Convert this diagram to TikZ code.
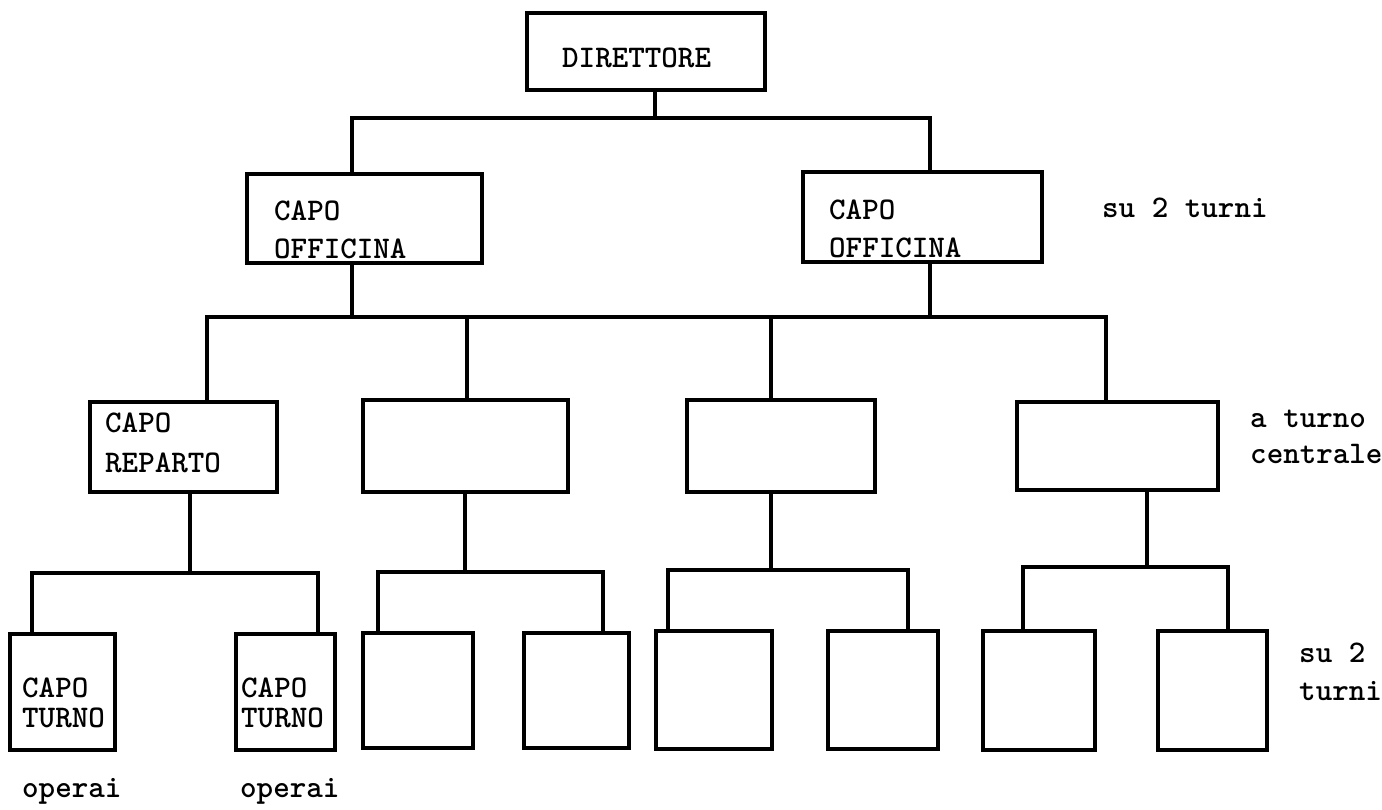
\documentclass[tikz,border=0pt]{standalone}
\usepackage{fontspec}
\begin{document}
\begin{tikzpicture}[x=1pt,y=-1pt,
  boxst/.style={draw, line width=3.2pt, inner sep=0pt, outer sep=0pt},
  conn/.style={line width=3.2pt, line join=miter},
  lbl/.style={anchor=base west, inner sep=0pt, font=\fontsize{31.5}{36}\selectfont\ttfamily\bfseries}]
\useasboundingbox (0,0) rectangle (1382,809);
% boxes
\node[boxst, minimum width=238pt, minimum height=77pt] (dir) at (646,51.5) {};
\node[boxst, minimum width=235pt, minimum height=89pt] (col) at (364.5,218.5) {};
\node[boxst, minimum width=239pt, minimum height=90pt] (cor) at (922.5,217) {};
\node[boxst, minimum width=187pt, minimum height=90pt] (b1) at (183.5,447) {};
\node[boxst, minimum width=205pt, minimum height=92pt] (b2) at (465.5,446) {};
\node[boxst, minimum width=188pt, minimum height=92pt] (b3) at (781,446) {};
\node[boxst, minimum width=201pt, minimum height=88pt] (b4) at (1117.5,446) {};
\node[boxst, minimum width=105pt, minimum height=116pt] (c1) at (62.5,692) {};
\node[boxst, minimum width=99pt, minimum height=116pt] (c2) at (285.5,692) {};
\node[boxst, minimum width=110pt, minimum height=115pt] (c3) at (418,690.5) {};
\node[boxst, minimum width=105pt, minimum height=115pt] (c4) at (576.5,690.5) {};
\node[boxst, minimum width=116pt, minimum height=118pt] (c5) at (714,690) {};
\node[boxst, minimum width=110pt, minimum height=118pt] (c6) at (883,690) {};
\node[boxst, minimum width=112pt, minimum height=119pt] (c7) at (1039,690.5) {};
\node[boxst, minimum width=109pt, minimum height=119pt] (c8) at (1212.5,690.5) {};
% junctions
\coordinate (t0) at (655,118);
\coordinate (tL) at (352,118);
\coordinate (tR) at (930,118);
\coordinate (m1) at (207,317);
\coordinate (m2) at (467,317);
\coordinate (m3) at (771,317);
\coordinate (m4) at (1106,317);
\coordinate (g1) at (190,573);  \coordinate (g1a) at (32,573);   \coordinate (g1b) at (318,573);
\coordinate (g2) at (465,572);  \coordinate (g2a) at (378,572);  \coordinate (g2b) at (603,572);
\coordinate (g3) at (771,570);  \coordinate (g3a) at (668,570);  \coordinate (g3b) at (908,570);
\coordinate (g4) at (1147,567); \coordinate (g4a) at (1023,567); \coordinate (g4b) at (1228,567);
% connectors
\draw[conn] (dir.south -| t0) -- (t0);
\draw[conn] (col.north -| tL) -- (tL) -- (tR) -- (cor.north -| tR);
\draw[conn] (col.south -| tL) -- (tL |- m1);
\draw[conn] (cor.south -| tR) -- (tR |- m1);
\draw[conn] (b1.north -| m1) -- (m1) -- (m4) -- (b4.north -| m4);
\draw[conn] (b2.north -| m2) -- (m2);
\draw[conn] (b3.north -| m3) -- (m3);
\draw[conn] (b1.south -| g1) -- (g1);
\draw[conn] (c1.north -| g1a) -- (g1a) -- (g1b) -- (c2.north -| g1b);
\draw[conn] (b2.south -| g2) -- (g2);
\draw[conn] (c3.north -| g2a) -- (g2a) -- (g2b) -- (c4.north -| g2b);
\draw[conn] (b3.south -| g3) -- (g3);
\draw[conn] (c5.north -| g3a) -- (g3a) -- (g3b) -- (c6.north -| g3b);
\draw[conn] (b4.south -| g4) -- (g4);
\draw[conn] (c7.north -| g4a) -- (g4a) -- (g4b) -- (c8.north -| g4b);
% texts
\node[lbl] (tdir) at (562,67) {DIRETTORE};
\node[lbl] (tcol1) at (274,220) {CAPO};
\node[lbl] (tcol2) at (274,258) {OFFICINA};
\node[lbl] (tcor1) at (829,219) {CAPO};
\node[lbl] (tcor2) at (829,257) {OFFICINA};
\node[lbl] (ts1) at (1102,217) {su 2 turni};
\node[lbl] (tb11) at (105,432) {CAPO};
\node[lbl] (tb12) at (105,472) {REPARTO};
\node[lbl] (ta1) at (1250,427) {a turno};
\node[lbl] (ta2) at (1250,463) {centrale};
\node[lbl] (tc11) at (22,697) {CAPO};
\node[lbl] (tc12) at (22,727) {TURNO};
\node[lbl] (tc21) at (241,697) {CAPO};
\node[lbl] (tc22) at (241,727) {TURNO};
\node[lbl] (to1) at (22,797) {operai};
\node[lbl] (to2) at (240,797) {operai};
\node[lbl] (ts21) at (1299,662) {su 2};
\node[lbl] (ts22) at (1299,700) {turni};
\end{tikzpicture}
\end{document}
